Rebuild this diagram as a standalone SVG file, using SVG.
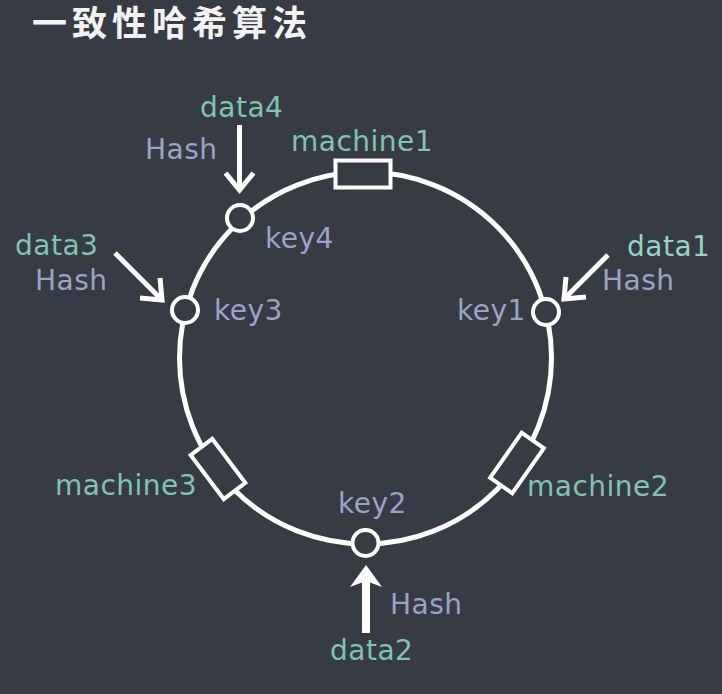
<svg xmlns="http://www.w3.org/2000/svg" width="722" height="694" viewBox="0 0 722 694">
  <style>
    .t { font-family: "DejaVu Sans", "Liberation Sans", sans-serif; font-size: 28px; letter-spacing: 0.5px; }
    .teal { fill: #80c4b4; }
    .lav { fill: #9ba3c8; }
    .ring { fill: none; stroke: #ffffff; stroke-width: 5; }
    .key { fill: #363b44; stroke: #ffffff; stroke-width: 4; }
    .mach { fill: #363b44; stroke: #ffffff; stroke-width: 4; }
    .arr { fill: none; stroke: #ffffff; stroke-width: 5; stroke-linejoin: miter; }
  </style>
  <rect width="722" height="694" fill="#363b44"/>
  <text x="32" y="36" font-family="'Noto Sans CJK SC', sans-serif" font-weight="bold" font-size="35" letter-spacing="5" fill="#f2f2f2">一致性哈希算法</text>

  <g id="ring">
    <circle class="ring" cx="365.5" cy="358" r="186"/>
  </g>

  <g id="connectors">
    <line class="arr" x1="239.5" y1="125" x2="239.5" y2="187"/>
    <polyline class="arr" points="225.5,173 239.5,190 253.5,173"/>
    <line class="arr" x1="115" y1="253" x2="160" y2="298"/>
    <polyline class="arr" points="140,298 162,300 160,278"/>
    <line class="arr" x1="608" y1="255" x2="566" y2="297"/>
    <polyline class="arr" points="586,297 564,299 566,277"/>
    <line x1="366" y1="633" x2="366" y2="580" stroke="#ffffff" stroke-width="8"/>
    <polygon points="366,565 382,587 366,581 350,587" fill="#ffffff"/>
  </g>

  <g id="machine1">
    <rect class="mach" x="335.5" y="160.5" width="55" height="27" />
    <text class="t teal" x="291" y="151">machine1</text>
  </g>
  <g id="machine2">
    <rect class="mach" x="-27.5" y="-13.5" width="55" height="27" transform="translate(517,463) rotate(-55)"/>
    <text class="t teal" x="527" y="496">machine2</text>
  </g>
  <g id="machine3">
    <rect class="mach" x="-27.5" y="-13.5" width="55" height="27" transform="translate(218,469) rotate(53)"/>
    <text class="t teal" x="55" y="495">machine3</text>
  </g>

  <g id="key1">
    <circle class="key" cx="546" cy="312" r="13"/>
    <text class="t lav" x="457" y="320">key1</text>
  </g>
  <g id="key2">
    <circle class="key" cx="365.5" cy="543" r="13"/>
    <text class="t lav" x="338" y="513">key2</text>
  </g>
  <g id="key3">
    <circle class="key" cx="185" cy="310" r="13"/>
    <text class="t lav" x="214" y="320">key3</text>
  </g>
  <g id="key4">
    <circle class="key" cx="240" cy="218" r="13"/>
    <text class="t lav" x="265" y="248">key4</text>
  </g>

  <g id="data1">
    <text class="t teal" x="627" y="256" style="fill:#94d4c8">data1</text>
    <text class="t lav" x="602" y="290">Hash</text>
  </g>
  <g id="data2">
    <text class="t lav" x="390" y="614">Hash</text>
    <text class="t teal" x="330" y="660">data2</text>
  </g>
  <g id="data3">
    <text class="t teal" x="15" y="255">data3</text>
    <text class="t lav" x="35" y="290">Hash</text>
  </g>
  <g id="data4">
    <text class="t teal" x="200" y="117">data4</text>
    <text class="t lav" x="145" y="159">Hash</text>
  </g>
</svg>
